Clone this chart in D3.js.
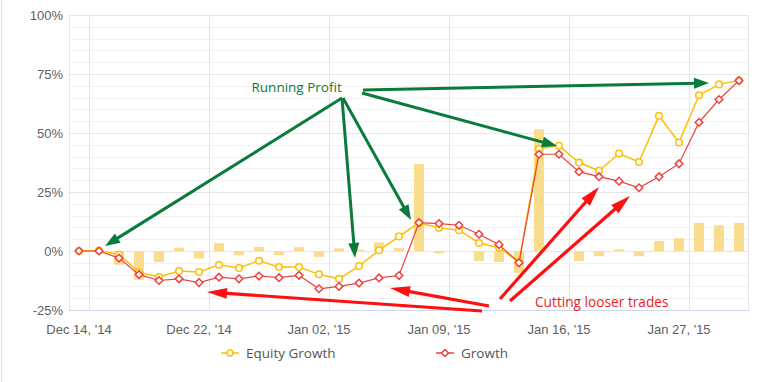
<!DOCTYPE html>
<html>
<head>
<meta charset="utf-8">
<script src="https://cdn.jsdelivr.net/npm/d3@7/dist/d3.min.js"></script>
<style>
  html, body { margin: 0; padding: 0; background: #fff; }
  svg { display: block; }
</style>
</head>
<body>
<svg id="chart" width="772" height="382"></svg>
<script>
// ---------------- DATA ----------------
const categories = d3.range(34); // trading days, index 0..33
const tickIndex = [0, 6, 12, 18, 24, 30];
const tickLabels = ["Dec 14, '14", "Dec 22, '14", "Jan 02, '15", "Jan 09, '15", "Jan 16, '15", "Jan 27, '15"];
const yTicks = [-25, 0, 25, 50, 75, 100];

const equityGrowth = [0, 0.2, -1.5, -9, -11, -8.5, -8.9, -5.8, -7.2, -4.1, -6.8, -6.8, -9.9, -11.8, -6.4, 0.3, 6.2,
  11.9, 9.8, 8.8, 3.4, 1.4, -4.6, 43.3, 44.6, 37.5, 34, 41.3, 37.7, 57.3, 46, 66, 70.6, 72.2];
const growth = [0, 0, -3, -10, -12.5, -11.8, -13.4, -11.1, -11.8, -10.6, -11.3, -10.3, -16, -15, -13.6, -11.4, -10.4,
  12, 11.6, 10.9, 7.1, 2.7, -5, 41, 41, 33.6, 31.5, 29.6, 26.8, 31.5, 37, 54.5, 64.2, 72.2];
const dailyProfit = [0, 0, -5.8, -12.2, -4.7, 1.4, -3.2, 3.3, -1.8, 1.7, -1.7, 1.6, -2.5, 1.1, 0.6, 3.6, 1.3,
  36.8, -1, 0, -4.2, -4.7, -9.3, 51.6, 0, -4.2, -2.2, 0.7, -2.2, 4.2, 5.4, 11.9, 10.9, 11.9];

const seriesNames = ["Equity Growth", "Growth"];

const greenLabel = "Running Profit";
const redLabel = "Cutting looser trades";

// ---------------- LAYOUT ----------------
const svg = d3.select("#chart");
const plot = { left: 69, right: 749, top: 15, bottom: 310 };

const x = d3.scaleBand().domain(categories).range([plot.left, plot.right]).padding(0);
const y = d3.scaleLinear().domain([-25, 100]).range([plot.bottom, plot.top]);

const COL_Y = "#ffbf00";
const COL_R = "#ec4240";
const COL_BAR = "#f9dc8c";
const COL_GREEN = "#0b7b3c";
const COL_RED = "#ff0f0f";

svg.append("rect").attr("width", 772).attr("height", 382).attr("fill", "#fff");
svg.append("line").attr("x1", 1.5).attr("x2", 1.5).attr("y1", 0).attr("y2", 382)
  .attr("stroke", "#dcdcdc").attr("stroke-width", 1);

const g = svg.append("g");

// minor grid (5%)
g.append("g").selectAll("line").data(d3.range(-25, 101, 5).filter(v => v % 25 !== 0))
  .join("line")
  .attr("x1", plot.left).attr("x2", plot.right)
  .attr("y1", d => Math.round(y(d)) + 0.5).attr("y2", d => Math.round(y(d)) + 0.5)
  .attr("stroke", "#f2f2f2").attr("stroke-width", 1);

// major grid
g.append("g").selectAll("line").data(yTicks.filter(v => v !== -25))
  .join("line")
  .attr("x1", plot.left).attr("x2", plot.right)
  .attr("y1", d => Math.round(y(d)) + 0.5).attr("y2", d => Math.round(y(d)) + 0.5)
  .attr("stroke", "#e6e6e6").attr("stroke-width", 1);

// vertical grid between categories, every 6
const vgrid = tickIndex.map(i => x(i) + x.bandwidth());
g.append("g").selectAll("line").data(vgrid)
  .join("line")
  .attr("x1", d => Math.round(d) + 0.5).attr("x2", d => Math.round(d) + 0.5)
  .attr("y1", plot.top).attr("y2", plot.bottom)
  .attr("stroke", "#e6e6e6").attr("stroke-width", 1);

// plot border
g.append("rect").attr("x", plot.left + 0.5).attr("y", plot.top + 0.5)
  .attr("width", plot.right - plot.left - 1).attr("height", plot.bottom - plot.top)
  .attr("fill", "none").attr("stroke", "#e6e6e6");

// x axis line
g.append("line").attr("x1", plot.left).attr("x2", plot.right)
  .attr("y1", plot.bottom + 0.5).attr("y2", plot.bottom + 0.5)
  .attr("stroke", "#ccd6eb").attr("stroke-width", 1);

// y axis labels
const yAxis = d3.axisLeft(y).tickValues(yTicks).tickSize(0).tickPadding(6).tickFormat(d => d + "%");
const ya = svg.append("g").attr("transform", `translate(${plot.left},0)`).call(yAxis);
ya.select(".domain").remove();
ya.selectAll("text").attr("font-family", "'Liberation Sans', Arial, sans-serif")
  .attr("font-size", 13).attr("fill", "#606060");

// x axis labels
const xAxis = d3.axisBottom(x).tickValues(tickIndex).tickSize(0).tickPadding(15)
  .tickFormat((d, i) => tickLabels[i]);
const xa = svg.append("g").attr("transform", `translate(0,${plot.bottom})`).call(xAxis);
xa.select(".domain").remove();
xa.selectAll("text").attr("font-family", "'Liberation Sans', Arial, sans-serif")
  .attr("font-size", 13).attr("fill", "#606060");

// bars
const barW = 10;
g.append("g").selectAll("rect").data(dailyProfit)
  .join("rect")
  .attr("x", (d, i) => x(i) + (x.bandwidth() - barW) / 2)
  .attr("y", d => y(Math.max(0, d)))
  .attr("width", barW)
  .attr("height", d => Math.abs(y(d) - y(0)))
  .attr("fill", COL_BAR);

// lines + markers (Equity first, Growth on top)
const line = d3.line().x((d, i) => x(i) + x.bandwidth() / 2).y(d => y(d));
const diamond = (cx, cy, r) => `M${cx},${cy - r}L${cx + r},${cy}L${cx},${cy + r}L${cx - r},${cy}Z`;

g.append("path").datum(equityGrowth).attr("d", line).attr("fill", "none")
  .attr("stroke", COL_Y).attr("stroke-width", 1.5);
g.append("g").selectAll("circle").data(equityGrowth)
  .join("circle")
  .attr("cx", (d, i) => x(i) + x.bandwidth() / 2).attr("cy", d => y(d)).attr("r", 3.3)
  .attr("fill", "#fff").attr("stroke", COL_Y).attr("stroke-width", 1.5);

g.append("path").datum(growth).attr("d", line).attr("fill", "none")
  .attr("stroke", COL_R).attr("stroke-width", 1.2);
g.append("g").selectAll("path").data(growth)
  .join("path")
  .attr("d", (d, i) => diamond(x(i) + x.bandwidth() / 2, y(d), 3.8))
  .attr("fill", "#fff").attr("stroke", COL_R).attr("stroke-width", 1.5);

// ---------------- annotations ----------------
function arrow(x1, y1, x2, y2, color, w, headLen, headW) {
  const ang = Math.atan2(y2 - y1, x2 - x1);
  const bx = x2 - headLen * Math.cos(ang), by = y2 - headLen * Math.sin(ang);
  const px = Math.sin(ang) * headW / 2, py = -Math.cos(ang) * headW / 2;
  svg.append("line").attr("x1", x1).attr("y1", y1).attr("x2", bx + (x2 - bx) * 0.2).attr("y2", by + (y2 - by) * 0.2)
    .attr("stroke", color).attr("stroke-width", w).attr("stroke-linecap", "butt");
  svg.append("path").attr("d", `M${x2},${y2}L${bx + px},${by + py}L${bx - px},${by - py}Z`).attr("fill", color);
}
const greenArrows = [
  [342, 98, 105, 246], [342, 98, 355, 258], [343, 98, 411, 220],
  [362, 93, 557, 146], [363, 90, 709, 83]
];
greenArrows.forEach(a => arrow(a[0], a[1], a[2], a[3], COL_GREEN, 3, 15, 11));
const redArrows = [
  [482, 311, 207, 292], [489, 306, 390, 288], [500, 299, 599, 187], [510, 301, 630, 196]
];
redArrows.forEach(a => arrow(a[0], a[1], a[2], a[3], COL_RED, 3.2, 20, 11));

svg.append("text").attr("x", 251.5).attr("y", 91.5).text(greenLabel)
  .attr("font-family", "'Open Sans', sans-serif").attr("font-size", 13.5).attr("fill", COL_GREEN);
svg.append("text").attr("x", 535).attr("y", 306.5).text(redLabel)
  .attr("font-family", "'Open Sans', sans-serif").attr("font-size", 13.7).attr("fill", "#f01c1c");

// ---------------- legend ----------------
const legend = svg.append("g").attr("font-family", "'Open Sans', sans-serif").attr("font-size", 13.5).attr("fill", "#555");
const legendItems = [
  { name: seriesNames[0], color: COL_Y, x: 221, shape: "circle" },
  { name: seriesNames[1], color: COL_R, x: 436, shape: "diamond" }
];
const ly = 353;
legendItems.forEach(it => {
  legend.append("line").attr("x1", it.x).attr("x2", it.x + 18).attr("y1", ly).attr("y2", ly)
    .attr("stroke", it.color).attr("stroke-width", 1.5);
  if (it.shape === "circle") {
    legend.append("circle").attr("cx", it.x + 9).attr("cy", ly).attr("r", 3)
      .attr("fill", "#fff").attr("stroke", it.color).attr("stroke-width", 1.5);
  } else {
    legend.append("path").attr("d", diamond(it.x + 9, ly, 3.5))
      .attr("fill", "#fff").attr("stroke", it.color).attr("stroke-width", 1.5);
  }
  legend.append("text").attr("x", it.x + 25).attr("y", ly + 5).text(it.name);
});
</script>
</body>
</html>
